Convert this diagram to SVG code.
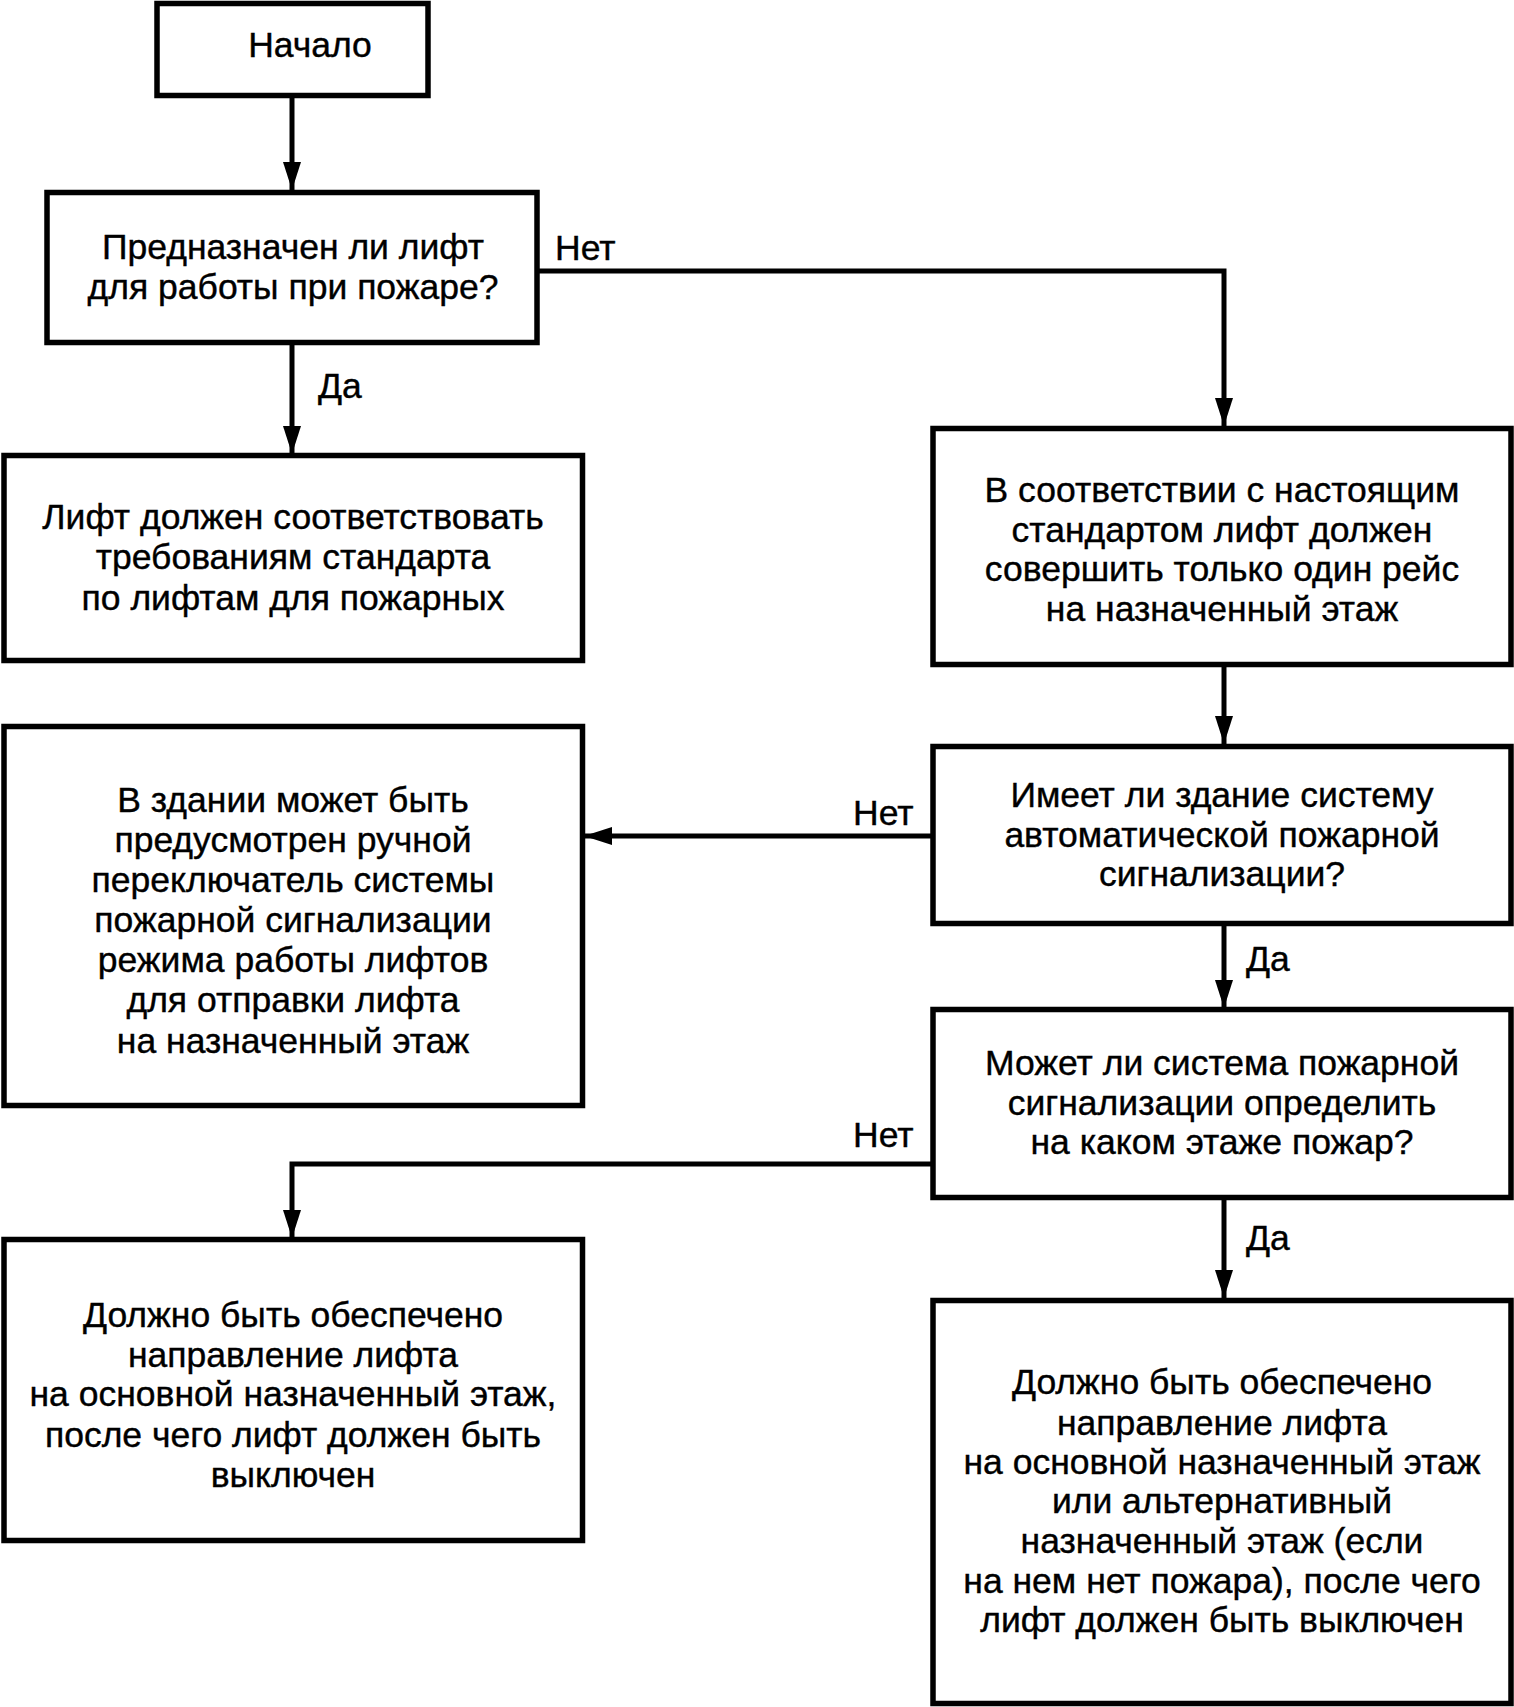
<svg xmlns="http://www.w3.org/2000/svg" width="1514" height="1707" viewBox="0 0 1514 1707">
<defs>
<style>
.box{fill:#fff;stroke:#000;stroke-width:5.5}
.con{fill:none;stroke:#000;stroke-width:5}
text{font-family:"Liberation Sans",Arial,sans-serif;font-size:35.5px;fill:#000;stroke:#000;stroke-width:0.4}
.c{text-anchor:middle}
</style>
<marker id="ah" markerUnits="userSpaceOnUse" viewBox="0 0 28 18" refX="28" refY="9" markerWidth="28" markerHeight="18" orient="auto">
<path d="M0,0 L28,9 L0,18 z" fill="#000"/>
</marker>
</defs>
<rect width="1514" height="1707" fill="#fff"/>
<g id="connectors">
<path class="con" d="M292,97 V190" marker-end="url(#ah)"/>
<path class="con" d="M538,271 H1224 V426" marker-end="url(#ah)"/>
<path class="con" d="M292,344 V454" marker-end="url(#ah)"/>
<path class="con" d="M1224,666 V744" marker-end="url(#ah)"/>
<path class="con" d="M932,836 H584" marker-end="url(#ah)"/>
<path class="con" d="M1224,925 V1008" marker-end="url(#ah)"/>
<path class="con" d="M932,1164 H292 V1238" marker-end="url(#ah)"/>
<path class="con" d="M1224,1200 V1298" marker-end="url(#ah)"/>
<text x="555" y="260">Нет</text>
<text x="318" y="398">Да</text>
<text x="853" y="825">Нет</text>
<text x="1246" y="971">Да</text>
<text x="853" y="1147">Нет</text>
<text x="1246" y="1250">Да</text>
</g>
<g id="start">
<rect class="box" x="157" y="3.5" width="271" height="92"/>
<text class="c" x="310" y="57">Начало</text>
</g>
<g id="q1">
<rect class="box" x="47" y="192.5" width="490" height="150"/>
<text class="c" x="293" y="259">Предназначен ли лифт</text>
<text class="c" x="293" y="299">для работы при пожаре?</text>
</g>
<g id="fire-lift">
<rect class="box" x="4" y="455.5" width="578.5" height="205"/>
<text class="c" x="293" y="529">Лифт должен соответствовать</text>
<text class="c" x="293" y="569">требованиям стандарта</text>
<text class="c" x="293" y="610">по лифтам для пожарных</text>
</g>
<g id="one-trip">
<rect class="box" x="933" y="428.5" width="578" height="236"/>
<text class="c" x="1222" y="502">В соответствии с настоящим</text>
<text class="c" x="1222" y="542">стандартом лифт должен</text>
<text class="c" x="1222" y="581">совершить только один рейс</text>
<text class="c" x="1222" y="621">на назначенный этаж</text>
</g>
<g id="q2">
<rect class="box" x="933" y="746.5" width="578" height="177"/>
<text class="c" x="1222" y="807">Имеет ли здание систему</text>
<text class="c" x="1222" y="847">автоматической пожарной</text>
<text class="c" x="1222" y="886">сигнализации?</text>
</g>
<g id="manual">
<rect class="box" x="4" y="726.5" width="578.5" height="379"/>
<text class="c" x="293" y="812">В здании может быть</text>
<text class="c" x="293" y="852">предусмотрен ручной</text>
<text class="c" x="293" y="892">переключатель системы</text>
<text class="c" x="293" y="932">пожарной сигнализации</text>
<text class="c" x="293" y="972">режима работы лифтов</text>
<text class="c" x="293" y="1012">для отправки лифта</text>
<text class="c" x="293" y="1053">на назначенный этаж</text>
</g>
<g id="q3">
<rect class="box" x="933" y="1009.5" width="578" height="188"/>
<text class="c" x="1222" y="1075">Может ли система пожарной</text>
<text class="c" x="1222" y="1115">сигнализации определить</text>
<text class="c" x="1222" y="1154">на каком этаже пожар?</text>
</g>
<g id="main-floor">
<rect class="box" x="4" y="1239.5" width="578.5" height="301"/>
<text class="c" x="293" y="1327">Должно быть обеспечено</text>
<text class="c" x="293" y="1367">направление лифта</text>
<text class="c" x="293" y="1406">на основной назначенный этаж,</text>
<text class="c" x="293" y="1447">после чего лифт должен быть</text>
<text class="c" x="293" y="1487">выключен</text>
</g>
<g id="alt-floor">
<rect class="box" x="933" y="1300.5" width="578" height="403"/>
<text class="c" x="1222" y="1394">Должно быть обеспечено</text>
<text class="c" x="1222" y="1435">направление лифта</text>
<text class="c" x="1222" y="1474">на основной назначенный этаж</text>
<text class="c" x="1222" y="1513">или альтернативный</text>
<text class="c" x="1222" y="1553">назначенный этаж (если</text>
<text class="c" x="1222" y="1593">на нем нет пожара), после чего</text>
<text class="c" x="1222" y="1632">лифт должен быть выключен</text>
</g>
</svg>
